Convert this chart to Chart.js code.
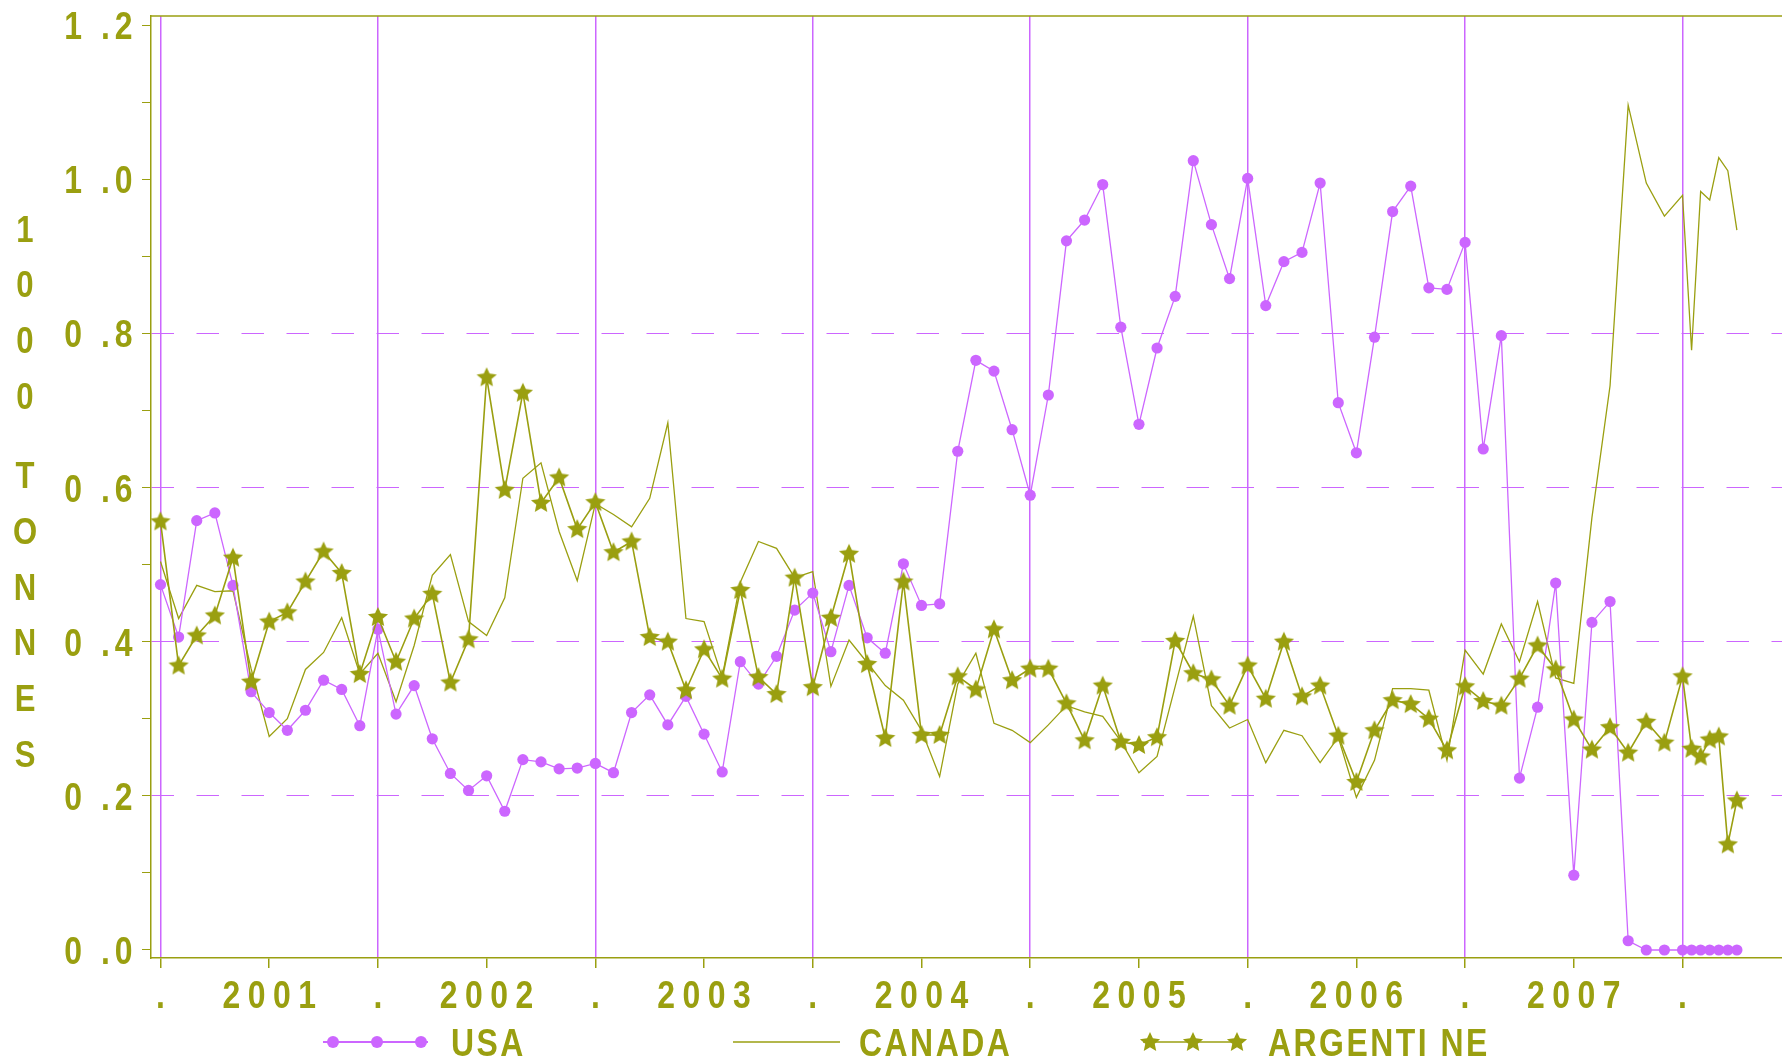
<!DOCTYPE html>
<html>
<head>
<meta charset="utf-8">
<script src="https://cdn.jsdelivr.net/npm/chart.js@4.4.1/dist/chart.umd.min.js"></script>
<style>
  html, body { margin: 0; padding: 0; background: #fff; }
  #wrap { width: 1782px; height: 1060px; }
</style>
</head>
<body>
<div id="wrap"><canvas id="chart" width="1782" height="1060"></canvas></div>
<script>
// month offsets from Jan 2001 (last months are half-month steps)
const months = [
  0, 1, 2, 3, 4, 5, 6, 7, 8, 9, 10, 11,
  12, 13, 14, 15, 16, 17, 18, 19, 20, 21, 22, 23,
  24, 25, 26, 27, 28, 29, 30, 31, 32, 33, 34, 35,
  36, 37, 38, 39, 40, 41, 42, 43, 44, 45, 46, 47,
  48, 49, 50, 51, 52, 53, 54, 55, 56, 57, 58, 59,
  60, 61, 62, 63, 64, 65, 66, 67, 68, 69, 70, 71,
  72, 73, 74, 75, 76, 77, 78, 79, 80, 81, 82, 83,
  84, 84.5, 85, 85.5, 86, 86.5, 87
];

const usa = [
  0.474, 0.406, 0.557, 0.567, 0.473, 0.335, 0.308, 0.285, 0.311, 0.350, 0.338, 0.291,
  0.416, 0.306, 0.343, 0.274, 0.229, 0.207, 0.226, 0.180, 0.247, 0.244, 0.235, 0.236,
  0.242, 0.230, 0.308, 0.331, 0.292, 0.329, 0.280, 0.231, 0.374, 0.345, 0.381, 0.441,
  0.463, 0.387, 0.473, 0.405, 0.385, 0.501, 0.447, 0.449, 0.647, 0.765, 0.751, 0.675,
  0.590, 0.720, 0.920, 0.947, 0.993, 0.808, 0.682, 0.781, 0.848, 1.024, 0.941, 0.871,
  1.001, 0.836, 0.893, 0.905, 0.995, 0.710, 0.645, 0.795, 0.958, 0.991, 0.859, 0.857,
  0.918, 0.650, 0.797, 0.223, 0.315, 0.476, 0.097, 0.425, 0.452, 0.012, 0.000, 0.000,
  0.000, 0.000, 0.000, 0.000, 0.000, 0.000, 0.000
];

const canada = [
  0.504, 0.430, 0.473, 0.465, 0.466, 0.365, 0.277, 0.300, 0.364, 0.386, 0.431, 0.358,
  0.385, 0.322, 0.395, 0.486, 0.513, 0.426, 0.408, 0.457, 0.612, 0.632, 0.543, 0.479,
  0.579, 0.565, 0.549, 0.586, 0.684, 0.430, 0.426, 0.354, 0.477, 0.530, 0.521, 0.483,
  0.491, 0.342, 0.402, 0.373, 0.343, 0.324, 0.285, 0.225, 0.345, 0.385, 0.294, 0.285,
  0.269, 0.292, 0.317, 0.309, 0.303, 0.271, 0.230, 0.251, 0.342, 0.433, 0.317, 0.288,
  0.299, 0.243, 0.285, 0.278, 0.243, 0.276, 0.198, 0.246, 0.339, 0.339, 0.337, 0.246,
  0.389, 0.358, 0.423, 0.374, 0.452, 0.353, 0.346, 0.561, 0.732, 1.096, 0.995, 0.952,
  0.979, 0.778, 0.984, 0.973, 1.028, 1.011, 0.934
];

const argentine = [
  0.556, 0.369, 0.408, 0.434, 0.509, 0.348, 0.426, 0.438, 0.478, 0.517, 0.489, 0.358,
  0.432, 0.374, 0.430, 0.462, 0.347, 0.403, 0.743, 0.597, 0.723, 0.580, 0.613, 0.546,
  0.581, 0.516, 0.530, 0.406, 0.400, 0.337, 0.390, 0.352, 0.467, 0.354, 0.332, 0.483,
  0.341, 0.431, 0.514, 0.371, 0.275, 0.478, 0.279, 0.279, 0.355, 0.338, 0.416, 0.350,
  0.365, 0.365, 0.320, 0.272, 0.343, 0.270, 0.266, 0.276, 0.401, 0.359, 0.351, 0.317,
  0.369, 0.326, 0.400, 0.329, 0.343, 0.278, 0.218, 0.285, 0.324, 0.319, 0.300, 0.259,
  0.342, 0.323, 0.317, 0.352, 0.395, 0.364, 0.299, 0.260, 0.289, 0.256, 0.296, 0.269,
  0.355, 0.261, 0.251, 0.273, 0.277, 0.137, 0.194
];

const xTicks = [0, 6, 12, 18, 24, 30, 36, 42, 48, 54, 60, 66, 72, 78, 84];
const xTickLabels = ['.', '2001', '.', '2002', '.', '2003', '.', '2004', '.', '2005', '.', '2006', '.', '2007', '.'];
const yTicks = [0, 0.1, 0.2, 0.3, 0.4, 0.5, 0.6, 0.7, 0.8, 0.9, 1.0, 1.1, 1.2];
const yTickLabels = ['0 .0', '', '0 .2', '', '0 .4', '', '0 .6', '', '0 .8', '', '1 .0', '', '1 .2'];
const yDashed = [false, false, true, false, true, false, true, false, true, false, false, false, false];

const seriesNames = ['USA', 'CANADA', 'ARGENTI NE'];
const yTitle = '1000 TONNES';

const OLIVE = '#9a9f10';
const PURPLE = '#cc66ff';
const FONT = "'Liberation Sans', Arial, sans-serif";
const SX = 0.84; // the original lettering is a narrow bold face

function makeStar(r, color) {
    const size = Math.ceil(r * 2 + 4);
    const c = document.createElement('canvas');
    c.width = size;
    c.height = size;
    const g = c.getContext('2d');
    g.fillStyle = color;
    g.beginPath();
    for (let i = 0; i < 10; i++) {
        const rad = i % 2 === 0 ? r : r * 0.47;
        const a = -Math.PI / 2 + i * Math.PI / 5;
        const px = size / 2 + rad * Math.cos(a);
        const py = size / 2 + rad * 0.05 + rad * Math.sin(a);
        if (i === 0) g.moveTo(px, py); else g.lineTo(px, py);
    }
    g.closePath();
    g.fill();
    return c;
}
const star = makeStar(10.6, OLIVE);

const toPoints = arr => months.map((m, i) => ({ x: m, y: arr[i] }));

function narrowText(ctx, text, x, y, align, spacing) {
    ctx.save();
    ctx.translate(x, y);
    ctx.scale(SX, 1);
    ctx.letterSpacing = (spacing / SX) + 'px';
    ctx.textAlign = align;
    ctx.textBaseline = 'alphabetic';
    ctx.fillText(text, 0, 0);
    ctx.restore();
}

const decorPlugin = {
    id: 'decor',
    afterDraw(chart) {
        const ctx = chart.ctx;
        const area = chart.chartArea;
        const xs = chart.scales.x;
        const ys = chart.scales.y;
        ctx.save();
        // top border
        ctx.strokeStyle = OLIVE;
        ctx.lineWidth = 1.5;
        ctx.beginPath();
        ctx.moveTo(area.left, area.top);
        ctx.lineTo(area.right, area.top);
        ctx.stroke();

        ctx.fillStyle = OLIVE;
        ctx.font = 'bold 38px ' + FONT;

        // tick labels, placed by the chart's own scales
        xTicks.forEach((v, i) => {
            const px = xs.getPixelForValue(v);
            narrowText(ctx, xTickLabels[i], px + 3.7, 1008, 'center', 7.5);
        });
        yTicks.forEach((v, i) => {
            if (!yTickLabels[i]) return;
            const py = ys.getPixelForValue(v);
            narrowText(ctx, yTickLabels[i], 137.5, py + 14, 'right', 5);
        });

        // vertical y title, one letter per row
        ctx.font = 'bold 37px ' + FONT;
        let ty = 228.5;
        for (const ch of yTitle) {
            if (ch === ' ') { ty += 24; continue; }
            narrowText(ctx, ch, 25, ty + 13, 'center', 0);
            ty += 55.7;
        }

        // legend
        const ly = 1042;
        ctx.lineWidth = 2;
        ctx.strokeStyle = PURPLE;
        ctx.beginPath(); ctx.moveTo(323, ly); ctx.lineTo(428, ly); ctx.stroke();
        ctx.fillStyle = PURPLE;
        [333, 377, 421].forEach(x => {
            ctx.beginPath(); ctx.arc(x, ly, 6, 0, Math.PI * 2); ctx.fill();
        });
        ctx.strokeStyle = OLIVE;
        ctx.lineWidth = 1.5;
        ctx.beginPath(); ctx.moveTo(733, ly); ctx.lineTo(840, ly); ctx.stroke();
        ctx.beginPath(); ctx.moveTo(1143, ly); ctx.lineTo(1243, ly); ctx.stroke();
        [1150, 1193, 1237].forEach(x => ctx.drawImage(star, x - star.width / 2, ly - star.height / 2));

        ctx.fillStyle = OLIVE;
        ctx.font = 'bold 38px ' + FONT;
        narrowText(ctx, seriesNames[0], 451, 1056, 'left', 2.5);
        narrowText(ctx, seriesNames[1], 859, 1056, 'left', 2.5);
        narrowText(ctx, seriesNames[2], 1268, 1056, 'left', 2.5);
        ctx.restore();
    }
};

new Chart(document.getElementById('chart'), {
    type: 'line',
    data: {
        datasets: [
            {
                label: seriesNames[0],
                data: toPoints(usa),
                borderColor: PURPLE,
                backgroundColor: PURPLE,
                borderWidth: 1.3,
                pointRadius: 5.6,
                pointBorderWidth: 0,
                pointBackgroundColor: PURPLE,
                order: 1
            },
            {
                label: seriesNames[1],
                data: toPoints(canada),
                borderColor: OLIVE,
                borderWidth: 1.3,
                pointRadius: 0,
                order: 2
            },
            {
                label: seriesNames[2],
                data: toPoints(argentine),
                borderColor: OLIVE,
                borderWidth: 1.6,
                pointStyle: star,
                pointRadius: 10,
                order: 0
            }
        ]
    },
    options: {
        responsive: false,
        animation: false,
        events: [],
        layout: { autoPadding: false, padding: { top: 16, right: 0, bottom: 0, left: 0 } },
        plugins: {
            legend: { display: false },
            tooltip: { enabled: false }
        },
        scales: {
            x: {
                type: 'linear',
                min: -0.524,
                max: 89.49,
                afterBuildTicks: scale => { scale.ticks = xTicks.map(v => ({ value: v })); },
                afterFit: scale => {
                    scale.height = 102;
                    scale.paddingLeft = 0;
                    scale.paddingRight = 0;
                },
                ticks: {
                    display: false,
                    autoSkip: false,
                    callback: (value, index) => xTickLabels[index]
                },
                grid: {
                    color: ctx => (ctx.tick && ctx.tick.value % 12 === 0) ? PURPLE : 'rgba(0,0,0,0)',
                    lineWidth: 1.5,
                    tickColor: OLIVE,
                    tickLength: 10,
                    tickWidth: 1.5
                },
                border: { color: OLIVE, width: 1.5 }
            },
            y: {
                type: 'linear',
                min: -0.0104,
                max: 1.2117,
                afterBuildTicks: scale => { scale.ticks = yTicks.map(v => ({ value: v })); },
                afterFit: scale => {
                    scale.width = 151;
                    scale.paddingTop = 0;
                    scale.paddingBottom = 0;
                },
                ticks: {
                    display: false,
                    autoSkip: false,
                    callback: (value, index) => yTickLabels[index]
                },
                grid: {
                    color: ctx => yDashed[ctx.index] ? PURPLE : 'rgba(0,0,0,0)',
                    lineWidth: 1,
                    tickColor: OLIVE,
                    tickLength: 9,
                    tickWidth: 1
                },
                border: { color: OLIVE, width: 1.5, dash: [22.5, 22.5] }
            }
        }
    },
    plugins: [decorPlugin]
});
</script>
</body>
</html>
